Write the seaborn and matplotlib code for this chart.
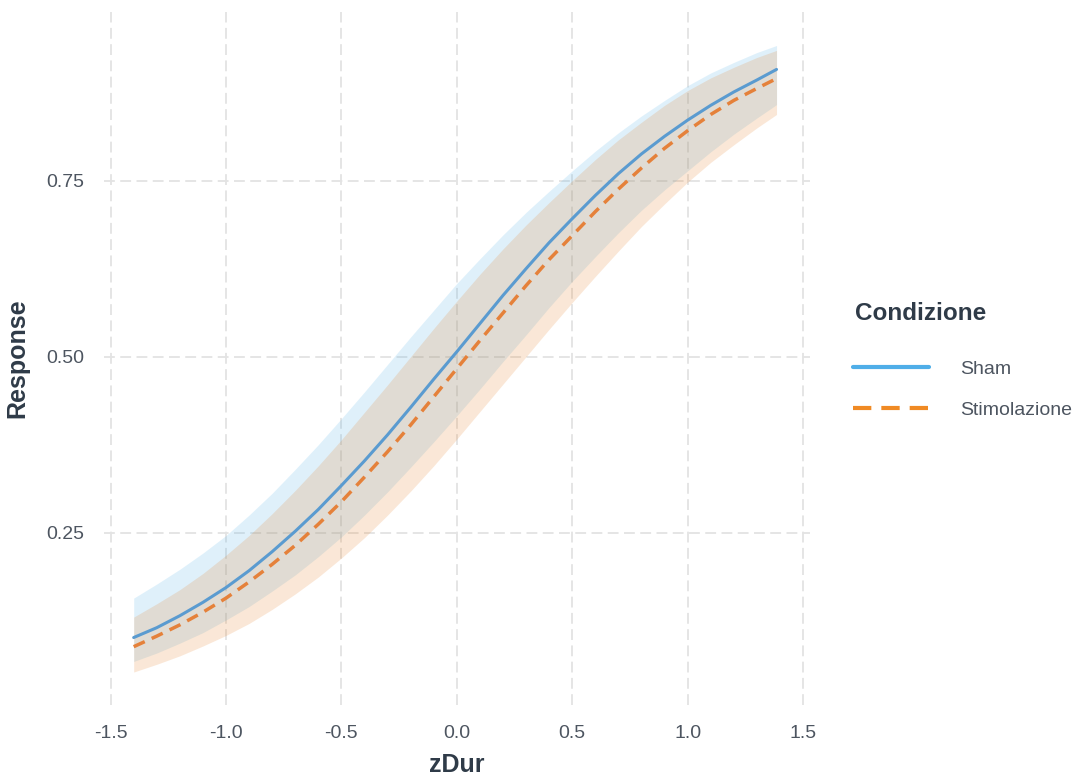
import matplotlib
matplotlib.use("Agg")
import matplotlib.pyplot as plt
import pandas as pd
import seaborn as sns

# values (fitted probabilities and 95% bands)
zdur = [-1.4, -1.3, -1.2, -1.1, -1.0, -0.9, -0.8, -0.7, -0.6, -0.5,
        -0.4, -0.3, -0.2, -0.1, 0.0, 0.1, 0.2, 0.3, 0.4, 0.5,
        0.6, 0.7, 0.8, 0.9, 1.0, 1.1, 1.2, 1.3, 1.385]

sham_fit = [0.101, 0.115, 0.132, 0.151, 0.172, 0.196, 0.223, 0.252, 0.283, 0.317,
            0.352, 0.389, 0.428, 0.468, 0.507, 0.547, 0.587, 0.625, 0.662, 0.696,
            0.729, 0.760, 0.788, 0.813, 0.836, 0.857, 0.876, 0.893, 0.908]
sham_lo = [0.067, 0.079, 0.093, 0.108, 0.126, 0.145, 0.167, 0.190, 0.216, 0.244,
           0.275, 0.308, 0.343, 0.379, 0.416, 0.454, 0.493, 0.531, 0.570, 0.607,
           0.642, 0.676, 0.708, 0.737, 0.764, 0.791, 0.816, 0.839, 0.858]
sham_hi = [0.157, 0.177, 0.198, 0.221, 0.246, 0.275, 0.306, 0.340, 0.375, 0.412,
           0.450, 0.489, 0.528, 0.566, 0.604, 0.639, 0.673, 0.705, 0.735, 0.764,
           0.792, 0.818, 0.842, 0.864, 0.885, 0.903, 0.918, 0.932, 0.942]

stim_fit = [0.088, 0.103, 0.119, 0.137, 0.157, 0.180, 0.205, 0.232, 0.262, 0.294,
            0.329, 0.365, 0.403, 0.443, 0.483, 0.523, 0.562, 0.601, 0.638, 0.672,
            0.706, 0.738, 0.768, 0.796, 0.821, 0.844, 0.864, 0.881, 0.895]
stim_lo = [0.052, 0.063, 0.075, 0.089, 0.104, 0.121, 0.141, 0.163, 0.187, 0.214,
           0.243, 0.275, 0.309, 0.345, 0.383, 0.422, 0.461, 0.500, 0.539, 0.577,
           0.614, 0.650, 0.685, 0.717, 0.748, 0.776, 0.801, 0.825, 0.844]
stim_hi = [0.130, 0.149, 0.169, 0.192, 0.218, 0.246, 0.277, 0.310, 0.345, 0.382,
           0.421, 0.460, 0.500, 0.540, 0.579, 0.617, 0.653, 0.687, 0.719, 0.750,
           0.780, 0.808, 0.833, 0.857, 0.878, 0.896, 0.911, 0.925, 0.935]

conditions = ["Sham", "Stimolazione"]
band_colors = {"Sham": "#56B4E9", "Stimolazione": "#E67E22"}
line_colors = {"Sham": "#5A9BD0", "Stimolazione": "#E5813A"}
legend_colors = {"Sham": "#4FAEE8", "Stimolazione": "#F08A24"}

df = pd.DataFrame({
    "zDur": zdur * 2,
    "Response": sham_fit + stim_fit,
    "Condizione": ["Sham"] * len(zdur) + ["Stimolazione"] * len(zdur),
})

sns.set_theme(style="white")
plt.rcParams["font.family"] = ["Liberation Sans", "DejaVu Sans"]

fig = plt.figure(figsize=(10.8, 7.8), dpi=100)
ax = fig.add_axes([0.096, 0.096, 0.654, 0.889])

ax.fill_between(zdur, sham_lo, sham_hi, color=band_colors["Sham"], alpha=0.19, lw=0, zorder=2)
ax.fill_between(zdur, stim_lo, stim_hi, color=band_colors["Stimolazione"], alpha=0.18, lw=0, zorder=2)

sns.lineplot(data=df, x="zDur", y="Response", hue="Condizione", style="Condizione",
             palette=line_colors, dashes={"Sham": "", "Stimolazione": (3.5, 2.2)},
             linewidth=2.5, ax=ax, legend=False, zorder=3)
# the solid line is a bit thinner than the dashed one
ax.lines[0].set_linewidth(2.2)

ax.set_xlim(-1.53, 1.53)
ax.set_ylim(0.005, 0.99)
ax.set_xticks([-1.5, -1.0, -0.5, 0.0, 0.5, 1.0, 1.5])
ax.set_xticklabels(["-1.5", "-1.0", "-0.5", "0.0", "0.5", "1.0", "1.5"])
ax.set_yticks([0.25, 0.50, 0.75])
ax.set_yticklabels(["0.25", "0.50", "0.75"])
ax.grid(True, color="#e3e3e3", linestyle=(0, (6, 3)), linewidth=1.3, zorder=0)
ax.set_axisbelow(True)
for s in ax.spines.values():
    s.set_visible(False)
ax.tick_params(axis="both", length=0, labelsize=14, labelcolor="#4d5560", pad=14)

ax.set_xlabel("zDur", fontsize=18, fontweight="bold", color="#2f3b48", labelpad=8)
ax.set_ylabel("Response", fontsize=18, fontweight="bold", color="#2f3b48", labelpad=12)

# legend: title placed by hand, entries below it
fig.text(0.7917, 0.5987, "Condizione", fontsize=17.5, fontweight="bold",
         color="#2f3b48", ha="left", va="center")
handles = [
    plt.Line2D([], [], color=legend_colors["Sham"], lw=3),
    plt.Line2D([], [], color=legend_colors["Stimolazione"], lw=3, dashes=(4.4, 2.4)),
]
leg = ax.legend(handles, conditions, loc="upper left",
                bbox_to_anchor=(0.783, 0.548), bbox_transform=fig.transFigure,
                frameon=False, fontsize=14,
                handlelength=3.9, handletextpad=1.6, labelspacing=1.2,
                borderaxespad=0)
for t in leg.get_texts():
    t.set_color("#4d5560")

fig.savefig("out.png", dpi=100)
